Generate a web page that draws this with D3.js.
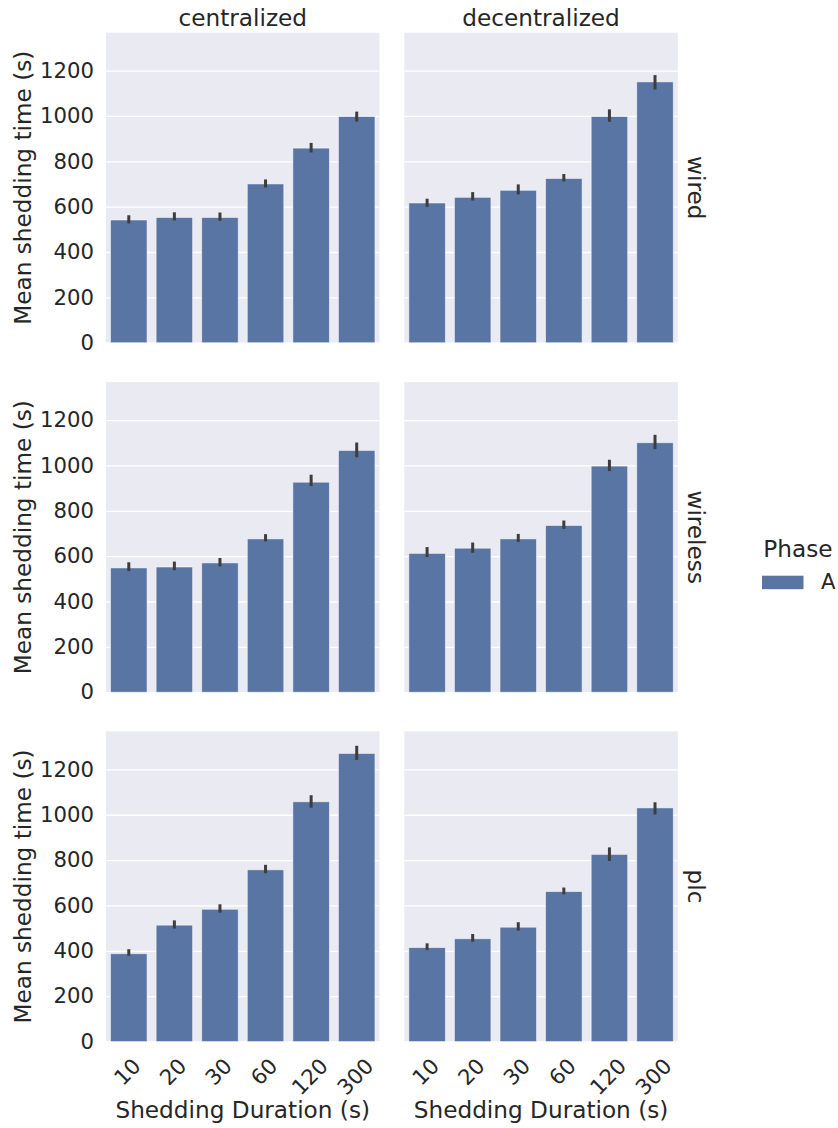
<!DOCTYPE html>
<html>
<head>
<meta charset="utf-8">
<script src="https://cdn.jsdelivr.net/npm/d3@7"></script>
<style>
  body { margin: 0; background: #ffffff; }
  svg { display: block; }
  text { font-family: "DejaVu Sans", sans-serif; fill: #262626; }
</style>
</head>
<body>
<div id="chart"></div>
<script>
// ---- data ----
const durations = ["10", "20", "30", "60", "120", "300"];
const columns = ["centralized", "decentralized"];
const rowsLabels = ["wired", "wireless", "plc"];
const yTicks = [0, 200, 400, 600, 800, 1000, 1200];
const legendTitle = "Phase";
const legendLabels = ["A"];

const wiredCentralMean = [541, 552, 552, 700, 858, 997];
const wiredCentralLo   = [526, 539, 537, 684, 839, 975];
const wiredCentralHi   = [562, 575, 574, 720, 881, 1019];

const wiredDecentralMean = [616, 641, 672, 724, 997, 1150];
const wiredDecentralLo   = [599, 627, 654, 711, 974, 1117];
const wiredDecentralHi   = [635, 664, 698, 744, 1029, 1180];

const wirelessCentralMean = [548, 552, 570, 676, 926, 1066];
const wirelessCentralLo   = [534, 538, 555, 665, 909, 1036];
const wirelessCentralHi   = [573, 576, 592, 697, 959, 1101];

const wirelessDecentralMean = [612, 635, 676, 735, 997, 1100];
const wirelessDecentralLo   = [596, 615, 663, 720, 975, 1072];
const wirelessDecentralHi   = [640, 660, 698, 757, 1025, 1135];

const plcCentralMean = [387, 513, 583, 757, 1057, 1270];
const plcCentralLo   = [378, 498, 568, 742, 1031, 1242];
const plcCentralHi   = [407, 534, 605, 779, 1086, 1304];

const plcDecentralMean = [414, 453, 504, 661, 825, 1030];
const plcDecentralLo   = [403, 440, 489, 649, 796, 1001];
const plcDecentralHi   = [433, 474, 526, 679, 856, 1055];

const panels = [
  [ {mean: wiredCentralMean, lo: wiredCentralLo, hi: wiredCentralHi},
    {mean: wiredDecentralMean, lo: wiredDecentralLo, hi: wiredDecentralHi} ],
  [ {mean: wirelessCentralMean, lo: wirelessCentralLo, hi: wirelessCentralHi},
    {mean: wirelessDecentralMean, lo: wirelessDecentralLo, hi: wirelessDecentralHi} ],
  [ {mean: plcCentralMean, lo: plcCentralLo, hi: plcCentralHi},
    {mean: plcDecentralMean, lo: plcDecentralLo, hi: plcDecentralHi} ]
];

// ---- layout ----
const W = 838, H = 1128;
const panelW = 273.5, panelH = 310;
const colX = [106, 404.3];
const rowY = [32.7, 382.2, 731.5];
const barColor = "#5975a4";
const bgColor = "#eaeaf2";
const errColor = "#3d3d3d";
const tickFs = 21.2, labelFs = 23.2;

const svg = d3.select("#chart").append("svg").attr("width", W).attr("height", H);

const x = d3.scaleBand().domain(durations).range([0, panelW]).paddingInner(0.2).paddingOuter(0.1);
const y = d3.scaleLinear().domain([0, 1367]).range([panelH, 0]);

panels.forEach((row, ri) => {
  row.forEach((p, ci) => {
    const g = svg.append("g").attr("transform", `translate(${colX[ci]},${rowY[ri]})`);
    g.append("rect").attr("width", panelW).attr("height", panelH).attr("fill", bgColor);

    // gridlines
    const grid = g.append("g").call(d3.axisLeft(y).tickValues(yTicks).tickSize(-panelW).tickFormat(""));
    grid.select(".domain").remove();
    grid.selectAll(".tick line").attr("stroke", "#ffffff").attr("stroke-width", 1.3);

    // bars
    g.selectAll("rect.bar").data(durations).enter().append("rect")
      .attr("class", "bar")
      .attr("x", d => x(d))
      .attr("width", x.bandwidth())
      .attr("y", (d, i) => y(p.mean[i]))
      .attr("height", (d, i) => panelH - y(p.mean[i]))
      .attr("fill", barColor)
      .attr("stroke", "#ffffff").attr("stroke-opacity", 0.6).attr("stroke-width", 0.8);

    // error bars
    g.selectAll("line.err").data(durations).enter().append("line")
      .attr("class", "err")
      .attr("x1", d => x(d) + x.bandwidth() / 2)
      .attr("x2", d => x(d) + x.bandwidth() / 2)
      .attr("y1", (d, i) => y(p.lo[i]))
      .attr("y2", (d, i) => y(p.hi[i]))
      .attr("stroke", errColor).attr("stroke-width", 3);

    // y axis labels
    if (ci === 0) {
      const ya = g.append("g").call(d3.axisLeft(y).tickValues(yTicks).tickFormat(d3.format("d")).tickSize(0).tickPadding(12));
      ya.select(".domain").remove();
      ya.selectAll("text").style("font-size", tickFs + "px").style("font-family", "DejaVu Sans").attr("fill", "#262626");
      g.append("text")
        .attr("transform", `translate(${30.5 - colX[0]},${panelH / 2}) rotate(-90)`)
        .attr("text-anchor", "middle")
        .style("font-size", labelFs + "px")
        .text("Mean shedding time (s)");
    }

    // column titles
    if (ri === 0) {
      g.append("text").attr("x", panelW / 2).attr("y", 26 - rowY[0])
        .attr("text-anchor", "middle").style("font-size", labelFs + "px")
        .text(columns[ci]);
    }

    // row labels
    if (ci === 1) {
      g.append("text")
        .attr("transform", `translate(${688 - colX[1]},${panelH / 2}) rotate(90)`)
        .attr("text-anchor", "middle")
        .style("font-size", labelFs + "px")
        .text(rowsLabels[ri]);
    }

    // x axis on bottom row
    if (ri === 2) {
      const xa = g.append("g").attr("transform", `translate(0,${panelH})`)
        .call(d3.axisBottom(x).tickSize(0).tickPadding(0));
      xa.select(".domain").remove();
      xa.selectAll("text").each(function () {
        const t = d3.select(this);
        t.style("font-size", tickFs + "px").style("font-family", "DejaVu Sans").attr("fill", "#262626");
        const L = this.getComputedTextLength();
        const hgt = 0.9 * tickFs;
        const cy = 14 + (L + hgt) / (2 * Math.SQRT2);
        t.attr("y", null).attr("dy", null)
          .attr("dominant-baseline", "central")
          .attr("text-anchor", "middle")
          .attr("transform", `translate(-1.5,${cy}) rotate(-45)`);
      });
      g.append("text").attr("x", panelW / 2).attr("y", 1118 - rowY[2])
        .attr("text-anchor", "middle").style("font-size", labelFs + "px")
        .text("Shedding Duration (s)");
    }
  });
});

// legend
const lg = svg.append("g");
lg.append("text").attr("x", 763.3).attr("y", 556.7).style("font-size", labelFs + "px").text(legendTitle);
legendLabels.forEach((lab, i) => {
  lg.append("rect").attr("x", 762).attr("y", 575.7 + i * 28).attr("width", 41.5).attr("height", 13.5)
    .attr("fill", barColor);
  lg.append("text").attr("x", 821).attr("y", 589 + i * 28).style("font-size", tickFs + "px").text(lab);
});
</script>
</body>
</html>
